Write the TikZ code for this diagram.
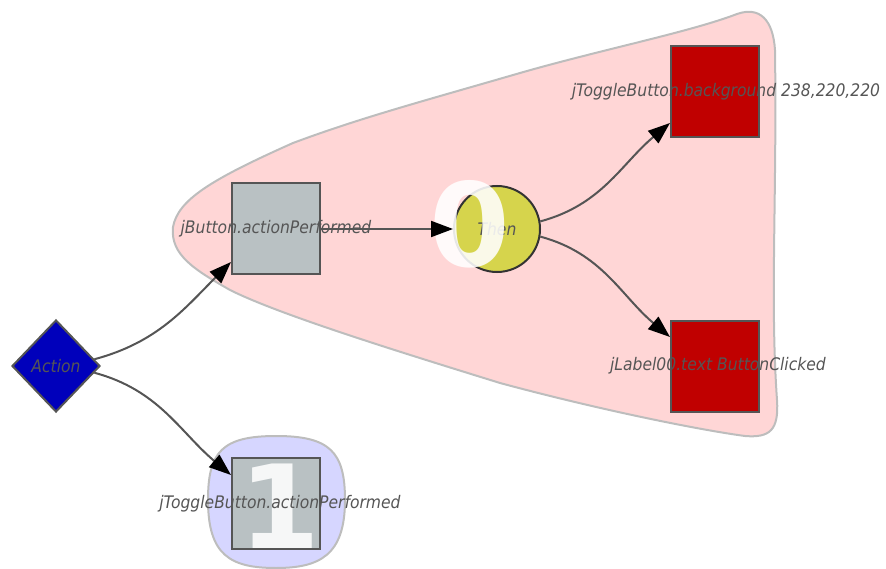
\documentclass[tikz,border=0pt]{standalone}
\usepackage{fontspec}
\setmainfont{DejaVu Sans}
\newfontfamily\condfont{DejaVu Sans Condensed}[ItalicFont={DejaVu Sans Condensed Oblique}]
\usetikzlibrary{shapes.geometric,arrows.meta}
\definecolor{groupred}{HTML}{FFD6D6}
\definecolor{groupblue}{HTML}{D6D6FF}
\definecolor{groupline}{HTML}{BDBDBD}
\definecolor{boxgray}{HTML}{B9C1C3}
\definecolor{boxred}{HTML}{C00000}
\definecolor{ballyellow}{HTML}{D6D44C}
\definecolor{actblue}{HTML}{0000BB}
\definecolor{inkgray}{HTML}{555555}
\tikzset{
  group/.style={draw=groupline, line width=2pt},
  sq/.style={rectangle, draw=inkgray, line width=2pt, minimum width=88pt, minimum height=91pt, inner sep=0pt},
  lbl/.style={text=inkgray, font=\condfont\fontsize{17.3}{18}\selectfont\itshape, inner sep=0pt},
  bignum/.style={text=white, text opacity=0.88, font=\fontsize{116}{116}\selectfont\bfseries, inner sep=0pt},
  edge/.style={draw=inkgray, line width=2pt, -{Triangle[length=22pt,width=16pt,fill=black,color=black]}},
}
\begin{document}
\begin{tikzpicture}[x=1pt,y=-1pt]
\useasboundingbox (0,0) rectangle (886,569);
% group backgrounds
\path[group, fill=groupred]
  (173,227) .. controls (178,200) and (210,180) .. (293,143)
  .. controls (360,118) and (420,102) .. (520,73)
  .. controls (600,50) and (690,32) .. (737,14)
  .. controls (760,6) and (773,20) .. (775,50)
  .. controls (777,200) and (770,300) .. (777,400)
  .. controls (779,430) and (770,438) .. (745,436)
  .. controls (700,430) and (600,410) .. (500,383)
  .. controls (400,352) and (280,315) .. (230,290)
  .. controls (195,270) and (170,255) .. (173,227) -- cycle;
\path[group, fill=groupblue]
  (276,436) .. controls (330,436) and (345,452) .. (345,500)
  .. controls (345,555) and (320,568) .. (276,568)
  .. controls (230,568) and (208,555) .. (208,500)
  .. controls (208,452) and (222,436) .. (276,436) -- cycle;
% nodes
\node[diamond, draw=inkgray, line width=2pt, fill=actblue, minimum width=88pt, minimum height=92pt, inner sep=0pt,
      label={[lbl]center:Action}] (act) at (56,366) {};
\node[sq, fill=boxgray, label={[lbl]center:jButton.actionPerformed}] (jb) at (276,229) {};
\node[circle, draw=black!80, line width=2pt, fill=ballyellow, minimum size=86pt, inner sep=0pt,
      label={[lbl]center:Then}] (then) at (497,229) {};
\node[bignum] (zero) at (470,224) {0};
\node[sq, fill=boxred, label={[lbl, xshift=11pt]center:jToggleButton.background 238,220,220}] (bg) at (715,92) {};
\node[sq, fill=boxred, label={[lbl, xshift=3pt]center:jLabel00.text ButtonClicked}] (lb) at (715,366) {};
\node[sq, fill=boxgray] (tb) at (276,503) {};
\node[bignum] (one) at (280,506) {1};
\node[lbl] (tbl) at (280,504) {jToggleButton.actionPerformed};
% connectors
\draw[edge] (act.10) to[out=15, in=225] (jb.south west |- 0,262);
\draw[edge] (act.-10) to[out=-15, in=140] (tb.west |- 0,475);
\draw[edge] (jb.east) -- (then.west);
\draw[edge] (then.10) to[out=15, in=220] (bg.west |- 0,123);
\draw[edge] (then.-10) to[out=-15, in=140] (lb.west |- 0,337);
\end{tikzpicture}
\end{document}
